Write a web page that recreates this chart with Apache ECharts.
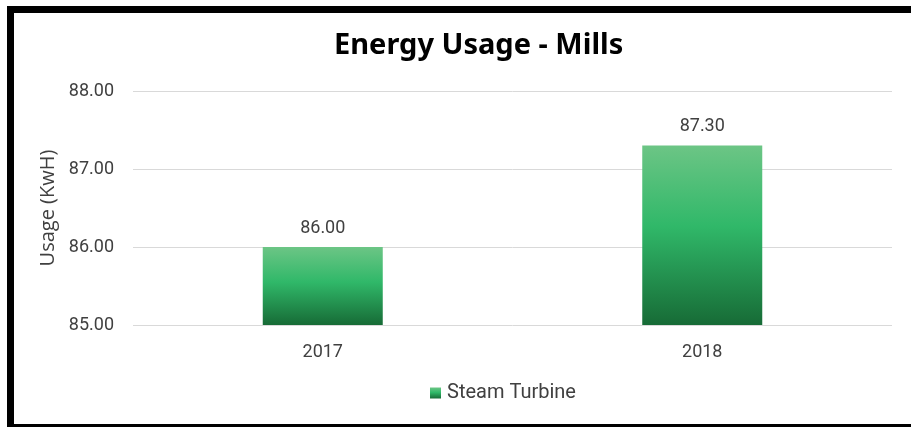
<!DOCTYPE html>
<html><head><meta charset="utf-8">
<script src="https://cdn.jsdelivr.net/npm/echarts@6/dist/echarts.min.js"></script>
<style>
html,body{margin:0;padding:0;background:#fff;width:911px;height:427px;overflow:hidden}
#frame{position:absolute;left:7px;top:6px;width:940px;height:425px;border:7px solid #000;box-sizing:border-box}
#c{position:absolute;left:0;top:0;width:911px;height:427px}
</style></head>
<body><div id="frame"></div><div id="c"></div>
<script>
const categories = ['2017', '2018'];
const steamTurbine = [86.00, 87.30];
const yTicks = [85, 86, 87, 88];

const chart = echarts.init(document.getElementById('c'));
const txt = '#404040';
chart.setOption({
  backgroundColor: 'transparent',
  title: {
    text: 'Energy Usage - Mills', left: 329, top: 26,
    textStyle: { fontFamily: 'Noto Sans', fontWeight: 'bold', fontSize: 29, color: '#000' }
  },
  legend: {
    data: ['Steam Turbine'], top: 378, left: 425, icon: 'rect', itemWidth: 11, itemHeight: 11, itemGap: 4,
    textStyle: { fontFamily: 'Roboto', fontSize: 20, color: txt, padding: [0,0,0,1] }
  },
  grid: { left: 133, right: 19, top: 91, bottom: 102, containLabel: false },
  xAxis: {
    type: 'category', data: categories,
    axisLine: { show: false }, axisTick: { show: false },
    axisLabel: { fontFamily: 'Roboto', fontSize: 18, color: txt, margin: 18 }
  },
  yAxis: {
    type: 'value', min: yTicks[0], max: yTicks[yTicks.length - 1], interval: 1,
    name: 'Usage (KwH)', nameLocation: 'middle', nameGap: 74, nameRotate: 90,
    nameTextStyle: { fontFamily: 'Open Sans', fontSize: 20, color: txt },
    axisLabel: { fontFamily: 'Roboto', fontSize: 18, color: txt, margin: 19, formatter: v => v.toFixed(2) },
    splitLine: { lineStyle: { color: '#d9d9d9', width: 1 } },
    axisLine: { show: false }, axisTick: { show: false }
  },
  series: [{
    name: 'Steam Turbine', type: 'bar', data: steamTurbine, barWidth: 120,
    itemStyle: {
      color: new echarts.graphic.LinearGradient(0, 0, 0, 1, [
        { offset: 0, color: '#6cc585' },
        { offset: 0.45, color: '#30b869' },
        { offset: 1, color: '#176b36' }
      ])
    },
    label: {
      show: true, position: 'top', distance: 10, formatter: p => p.value.toFixed(2),
      fontFamily: 'Roboto', fontSize: 18, color: txt
    }
  }]
});
</script></body></html>
